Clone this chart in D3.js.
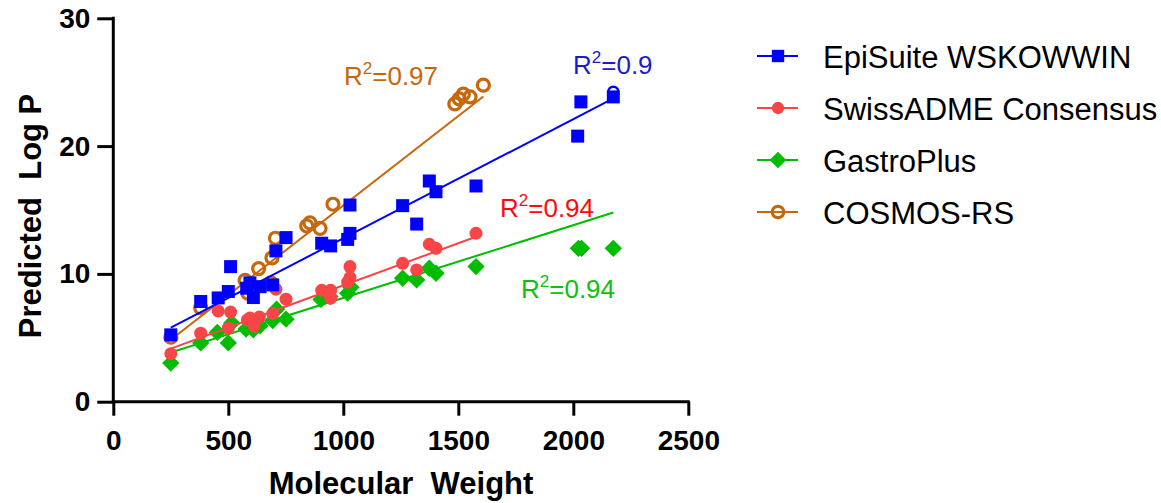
<!DOCTYPE html>
<html>
<head>
<meta charset="utf-8">
<script src="https://cdn.jsdelivr.net/npm/d3@7"></script>
<style>
  body { margin: 0; background: #fff; }
  svg { display: block; }
  text { font-family: "Liberation Sans", Arial, sans-serif; }
</style>
</head>
<body>
<svg id="chart" width="1161" height="503"></svg>
<script>
// Predicted log P vs molecular weight for four prediction tools
const seriesNames = ["EpiSuite WSKOWWIN", "SwissADME Consensus", "GastroPlus", "COSMOS-RS"];

const episuiteMW   = [250, 380, 456, 500, 510, 580, 594, 609, 638, 693, 707, 751, 906, 945, 1019, 1029, 1029, 1258, 1319, 1374, 1403, 1577, 2019, 2033, 2174];
const episuiteLogP = [5.23, 7.84, 8.12, 8.62, 10.57, 8.88, 9.3, 8.15, 9.0, 9.14, 11.8, 12.84, 12.4, 12.19, 12.7, 13.17, 15.39, 15.34, 13.9, 17.27, 16.43, 16.88, 20.78, 23.46, 23.85];
// a second, ring-marked EpiSuite value at the largest molecule
const episuiteRingMW   = [2174];
const episuiteRingLogP = [24.25];

const swissMW   = [250, 380, 456, 500, 510, 583, 594, 612, 635, 693, 707, 751, 906, 945, 945, 1019, 1029, 1029, 1258, 1319, 1374, 1403, 1577];
const swissLogP = [3.75, 5.36, 7.1, 5.75, 7.02, 6.4, 6.54, 5.92, 6.62, 6.9, 8.8, 8.02, 8.72, 8.72, 8.1, 9.35, 9.72, 10.57, 10.83, 10.31, 12.32, 12.0, 13.18];

const gastroMW   = [250, 380, 452, 500, 515, 577, 609, 638, 693, 710, 751, 903, 942, 1019, 1033, 1258, 1319, 1374, 1403, 1577, 2022, 2036, 2174];
const gastroLogP = [3.02, 4.6, 5.42, 4.6, 6.15, 5.68, 5.63, 5.94, 6.35, 7.24, 6.46, 8.0, 8.23, 8.49, 8.95, 9.66, 9.53, 10.44, 10.05, 10.57, 12.0, 12.0, 12.0];

const cosmosMW   = [250, 380, 573, 585, 632, 685, 690, 705, 841, 855, 899, 955, 1485, 1504, 1522, 1551, 1609];
const cosmosLogP = [5.05, 7.35, 9.5, 8.5, 10.42, 9.3, 11.25, 12.79, 13.75, 14.0, 13.57, 15.45, 23.3, 23.7, 24.06, 23.85, 24.77];

// linear regression of each series (slope, intercept) and its R²
const fitSlopes     = [0.009323, 0.0066, 0.00569, 0.0140];
const fitIntercepts = [3.46, 2.50, 2.43, 1.35];
const r2Values      = ["0.9", "0.94", "0.94", "0.97"];

const xTicks = [0, 500, 1000, 1500, 2000, 2500];
const yTicks = [0, 10, 20, 30];

const colors     = ["#0000ff", "#f84646", "#00bd00", "#c8660c"];
const textColors = ["#1c1cc8", "#ff0a0a", "#10c010", "#c8660c"];
const markers    = ["square", "circle", "diamond", "ring"];

const svg = d3.select("#chart");
const x = d3.scaleLinear().domain([0, 2500]).range([113.3, 688.3]);
const y = d3.scaleLinear().domain([0, 30]).range([401.7, 18.3]);

const series = [
  { mw: episuiteMW, lp: episuiteLogP },
  { mw: swissMW,    lp: swissLogP },
  { mw: gastroMW,   lp: gastroLogP },
  { mw: cosmosMW,   lp: cosmosLogP }
];

function drawMarker(g, kind, cx, cy, color, scale) {
  const s = scale || 1;
  if (kind === "square") {
    const a = 13 * s;
    g.append("rect").attr("x", cx - a / 2).attr("y", cy - a / 2)
      .attr("width", a).attr("height", a).attr("fill", color);
  } else if (kind === "circle") {
    g.append("circle").attr("cx", cx).attr("cy", cy).attr("r", 6.5 * s).attr("fill", color);
  } else if (kind === "diamond") {
    g.append("path")
      .attr("d", d3.symbol(d3.symbolSquare, 150 * s * s)())
      .attr("transform", `translate(${cx},${cy}) rotate(45)`)
      .attr("fill", color);
  } else if (kind === "ring") {
    g.append("circle").attr("cx", cx).attr("cy", cy).attr("r", 6 * s)
      .attr("fill", "none").attr("stroke", color).attr("stroke-width", 3.2);
  }
}

// plot series: later series in the legend sit underneath earlier ones
const plot = svg.append("g");
for (let i = series.length - 1; i >= 0; i--) {
  const s = series[i];
  const g = plot.append("g");
  const lo = d3.min(s.mw), hi = d3.max(s.mw);
  const f = v => fitSlopes[i] * v + fitIntercepts[i];
  g.append("line")
    .attr("x1", x(lo)).attr("y1", y(f(lo)))
    .attr("x2", x(hi)).attr("y2", y(f(hi)))
    .attr("stroke", colors[i]).attr("stroke-width", 2);
  s.mw.forEach((m, k) => drawMarker(g, markers[i], x(m), y(s.lp[k]), colors[i]));
  if (i === 0) {
    episuiteRingMW.forEach((m, k) => {
      g.append("circle").attr("cx", x(m)).attr("cy", y(episuiteRingLogP[k])).attr("r", 5)
        .attr("fill", "none").attr("stroke", colors[0]).attr("stroke-width", 2.5);
    });
  }
}

// axes
const fmt = d3.format("d");
const xAxis = svg.append("g").attr("transform", `translate(0,${y(0)})`)
  .call(d3.axisBottom(x).tickValues(xTicks).tickFormat(fmt).tickSize(14).tickSizeOuter(0).tickPadding(14));
const yAxis = svg.append("g").attr("transform", `translate(${x(0)},0)`)
  .call(d3.axisLeft(y).tickValues(yTicks).tickFormat(fmt).tickSize(16).tickSizeOuter(0).tickPadding(7));
[xAxis, yAxis].forEach(a => {
  a.select(".domain").attr("stroke", "#000").attr("stroke-width", 3);
  a.selectAll(".tick line").attr("stroke", "#000").attr("stroke-width", 3);
  a.selectAll(".tick text").attr("fill", "#000")
    .style("font-family", "'Liberation Sans', Arial, sans-serif")
    .style("font-size", "28px").style("font-weight", "bold");
});
xAxis.select(".domain").attr("d", `M${x(0) - 1.5},0H${x(2500) + 1.5}`);
yAxis.select(".domain").attr("d", `M0,${y(0) + 1.5}V${y(30) - 1.5}`);

// axis titles
svg.append("text").attr("x", 401).attr("y", 494).attr("text-anchor", "middle")
  .style("font-size", "31px").style("font-weight", "bold").attr("xml:space", "preserve")
  .text("Molecular  Weight");
svg.append("text").attr("transform", "translate(41,216) rotate(-90)").attr("text-anchor", "middle")
  .style("font-size", "31px").style("font-weight", "bold").attr("xml:space", "preserve")
  .text("Predicted  Log P");

// R² annotations
const r2Pos = [[573, 74], [500, 217], [521, 298], [344, 85]];
r2Values.forEach((v, i) => {
  const t = svg.append("text").attr("x", r2Pos[i][0]).attr("y", r2Pos[i][1])
    .attr("fill", textColors[i]).style("font-size", "26px");
  t.append("tspan").text("R");
  t.append("tspan").attr("dy", -11).style("font-size", "17px").text("2");
  t.append("tspan").attr("dy", 11).text("=" + v);
});

// legend
const legend = svg.append("g");
seriesNames.forEach((name, i) => {
  const cy = 56 + i * 52;
  legend.append("line").attr("x1", 757).attr("x2", 798).attr("y1", cy).attr("y2", cy)
    .attr("stroke", colors[i]).attr("stroke-width", 2);
  drawMarker(legend, markers[i], 778, cy, colors[i], 0.95);
  legend.append("text").attr("x", 823).attr("y", cy + 12).attr("fill", "#000")
    .style("font-size", "31px").text(name);
});
</script>
</body>
</html>
